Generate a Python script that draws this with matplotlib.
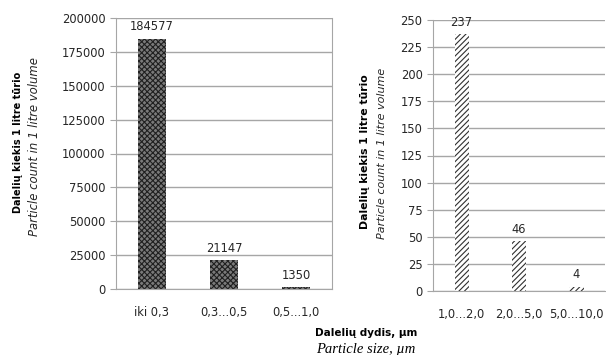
import matplotlib
matplotlib.use("Agg")
import matplotlib.pyplot as plt

left_cats = ["iki 0,3", "0,3...0,5", "0,5...1,0"]
left_vals = [184577, 21147, 1350]
right_cats = ["1,0...2,0", "2,0...5,0", "5,0...10,0"]
right_vals = [237, 46, 4]
left_ticks = [0, 25000, 50000, 75000, 100000, 125000, 150000, 175000, 200000]
right_ticks = [0, 25, 50, 75, 100, 125, 150, 175, 200, 225, 250]

plt.rcParams['font.family'] = ['DejaVu Sans']
plt.rcParams['hatch.linewidth'] = 0.8

W, H = 606, 355
fig = plt.figure(figsize=(W/100, H/100), dpi=100)

def px(x0, y0, x1, y1):
    return [x0/W, (H-y1)/H, (x1-x0)/W, (y1-y0)/H]

grid_c = '#a6a6a6'
txt_c = '#262626'
fs = 8.3

def style(ax, ticks):
    ax.set_yticks(ticks)
    ax.set_ylim(ticks[0], ticks[-1])
    ax.set_xlim(-0.5, 2.5)
    ax.yaxis.grid(True, color=grid_c, linewidth=1)
    ax.set_axisbelow(True)
    ax.spines['top'].set_visible(False)
    for s in ['left', 'bottom', 'right']:
        ax.spines[s].set_color(grid_c)
    ax.tick_params(axis='y', colors=grid_c, labelcolor=txt_c, labelsize=fs, length=4, direction='out')
    ax.tick_params(axis='x', length=0, labelcolor=txt_c, labelsize=fs, pad=12)

ax1 = fig.add_axes(px(116, 18, 332, 289))
ax1.bar(range(3), left_vals, width=0.39, color='#7a7a7a', edgecolor='#202020', linewidth=0, hatch='xxxxxx')
ax1.set_xticks(range(3))
ax1.set_xticklabels(left_cats)
style(ax1, left_ticks)
for i, v in enumerate(left_vals):
    ax1.annotate(str(v), (i, v), xytext=(0, 4), textcoords='offset points', ha='center', va='bottom', fontsize=fs, color=txt_c)

ax2 = fig.add_axes(px(433, 20, 605, 291))
ax2.bar(range(3), right_vals, width=0.25, color='white', edgecolor='#303030', linewidth=0, hatch='//////')
ax2.set_xticks(range(3))
ax2.set_xticklabels(right_cats)
style(ax2, right_ticks)
ax2.spines['right'].set_visible(False)
for i, v in enumerate(right_vals):
    ax2.annotate(str(v), (i, v), xytext=(0, 4), textcoords='offset points', ha='center', va='bottom', fontsize=fs, color=txt_c)

# y-labels
for xb, xi, yb, yi, fb, fi in [(18, 35, 142, 147, 7, 8.4), (365, 382, 152, 153, 7.8, 8.0)]:
    fig.text(xb/W, 1-yb/H, "Dalelių kiekis 1 litre tūrio", rotation=90, ha='center', va='center', fontsize=fb, fontweight='bold', color='black')
    fig.text(xi/W, 1-yi/H, "Particle count in 1 litre volume", rotation=90, ha='center', va='center', fontsize=fi, style='italic', color=txt_c)

fig.text(366/W, 1-333/H, "Dalelių dydis, µm", ha='center', va='center', fontsize=7.5, fontweight='bold', color='black')
fig.text(366/W, 1-350/H, "Particle size, µm", ha='center', va='center', fontsize=10.5, style='italic', family='Liberation Serif', color='black')

fig.savefig("out.png", dpi=100)
